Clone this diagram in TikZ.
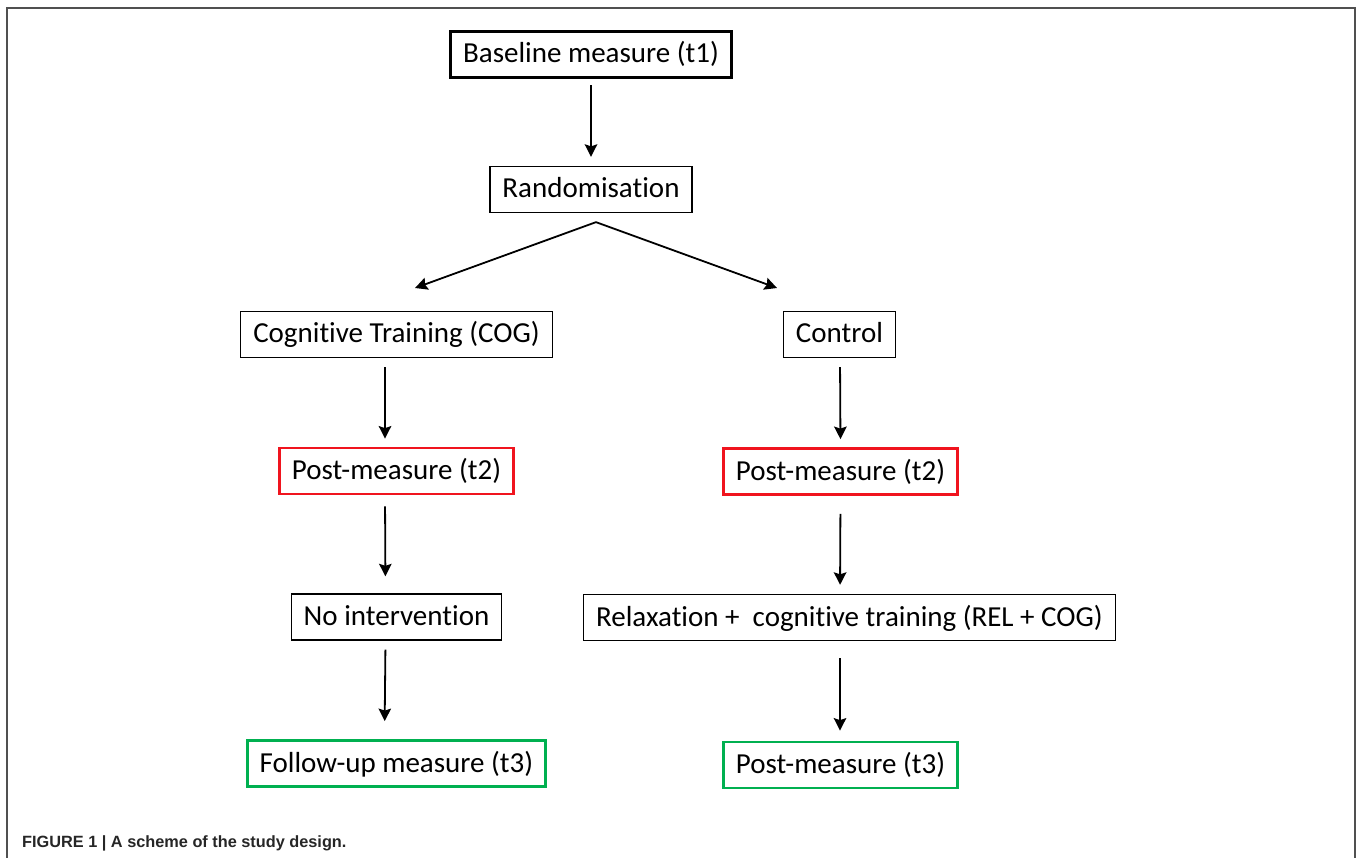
\documentclass[tikz,border=0pt]{standalone}
\usepackage{fontspec}
\setmainfont{Carlito}[Ligatures=NoCommon]
\newfontfamily\capfont{Liberation Sans}
\usepackage{tikz}
\usetikzlibrary{arrows.meta}
\usetikzlibrary{positioning}
\definecolor{boxred}{HTML}{F0141E}
\definecolor{boxgreen}{HTML}{00B050}
\definecolor{framegray}{HTML}{505050}
\tikzset{
  box/.style={draw, line width=1.3pt, font=\fontsize{29}{34}\selectfont,
    inner xsep=12.5pt, inner ysep=0pt, minimum height=46pt,
    text height=21.5pt, text depth=4.5pt},
  thickbox/.style={box, line width=3.5pt},
  redbox/.style={box, draw=boxred, line width=2.8pt},
  greenbox/.style={box, draw=boxgreen, line width=2.8pt},
  arr/.style={->, line width=1.8pt},
  caption/.style={font=\capfont\bfseries\fontsize{16.3}{19}\selectfont,
    text=black!85, inner sep=0pt}
}

\begin{document}
\begin{tikzpicture}[x=1pt, y=-1pt,
      >={Stealth[length=12.5pt, width=12.5pt, inset=2pt]},
      on grid]

    \useasboundingbox (0,0) rectangle (1357,858);
    \draw[framegray, line width=1.6pt]
      (7,858) -- (7,8) -- (1355,8) -- (1355,858);

    \node[thickbox]
      (Baseline) at (591,54.5) {Baseline measure (t1)};
    \node[box]
      (Random) [below=135pt of Baseline] {Randomisation};
    \node[box]
      (Cog) at (396.5,334.5) {Cognitive Training (COG)};
    \node[box]
      (Control) at (839.5,334.5) {Control};
    \node[redbox]
      (PostA) [below=136.5pt of Cog] {Post-measure (t2)};
    \node[redbox]
      (PostB) at (840.5,471.5) {Post-measure (t2)};
    \node[box]
      (NoInt) [below=146pt of PostA] {No intervention};
    \node[box]
      (Relax) at (849.5,617.5) {Relaxation +\ \ cognitive training (REL + COG)};
    \node[greenbox]
      (FollowUp) [below=146.5pt of NoInt] {Follow-up measure (t3)};
    \node[greenbox]
      (PostC) at (840.5,765) {Post-measure (t3)};
    \node[caption, anchor=base west]
      (Caption) at (22,847) {FIGURE 1 | A scheme of the study design.};

    \coordinate (fork) at ([xshift=5pt, yshift=-9pt]Random.south);
    \coordinate (toCog) at (415,288);
    \coordinate (toControl) at (777,288);

    % main arrows
    \draw[arr, shorten <=6pt, shorten >=9pt] (Baseline) -- (Random);
    \draw[arr] (fork) -- (toCog);
    \draw[arr] (fork) -- (toControl);

    % left arm
    \draw[arr, shorten <=9pt, shorten >=8pt]
      ([xshift=-11.5pt]Cog.south) -- ([xshift=-11.5pt]PostA.north);
    \draw[arr, shorten <=11pt, shorten >=17pt]
      ([xshift=-11.5pt]PostA.south) -- ([xshift=-11pt]NoInt.north);
    \draw[arr, shorten <=9pt, shorten >=18pt]
      ([xshift=-11pt]NoInt.south) -- ([xshift=-12pt]FollowUp.north);

    % right arm
    \draw[arr, shorten <=9pt, shorten >=8pt]
      ([xshift=0.5pt]Control.south) -- (PostB.north);
    \draw[arr, shorten <=18pt, shorten >=9pt]
      (PostB.south) -- ([xshift=-9.5pt]Relax.north);
    \draw[arr, shorten <=17pt, shorten >=10pt]
      ([xshift=-9.5pt]Relax.south) -- ([xshift=-0.5pt]PostC.north);

  \end{tikzpicture}
\end{document}
